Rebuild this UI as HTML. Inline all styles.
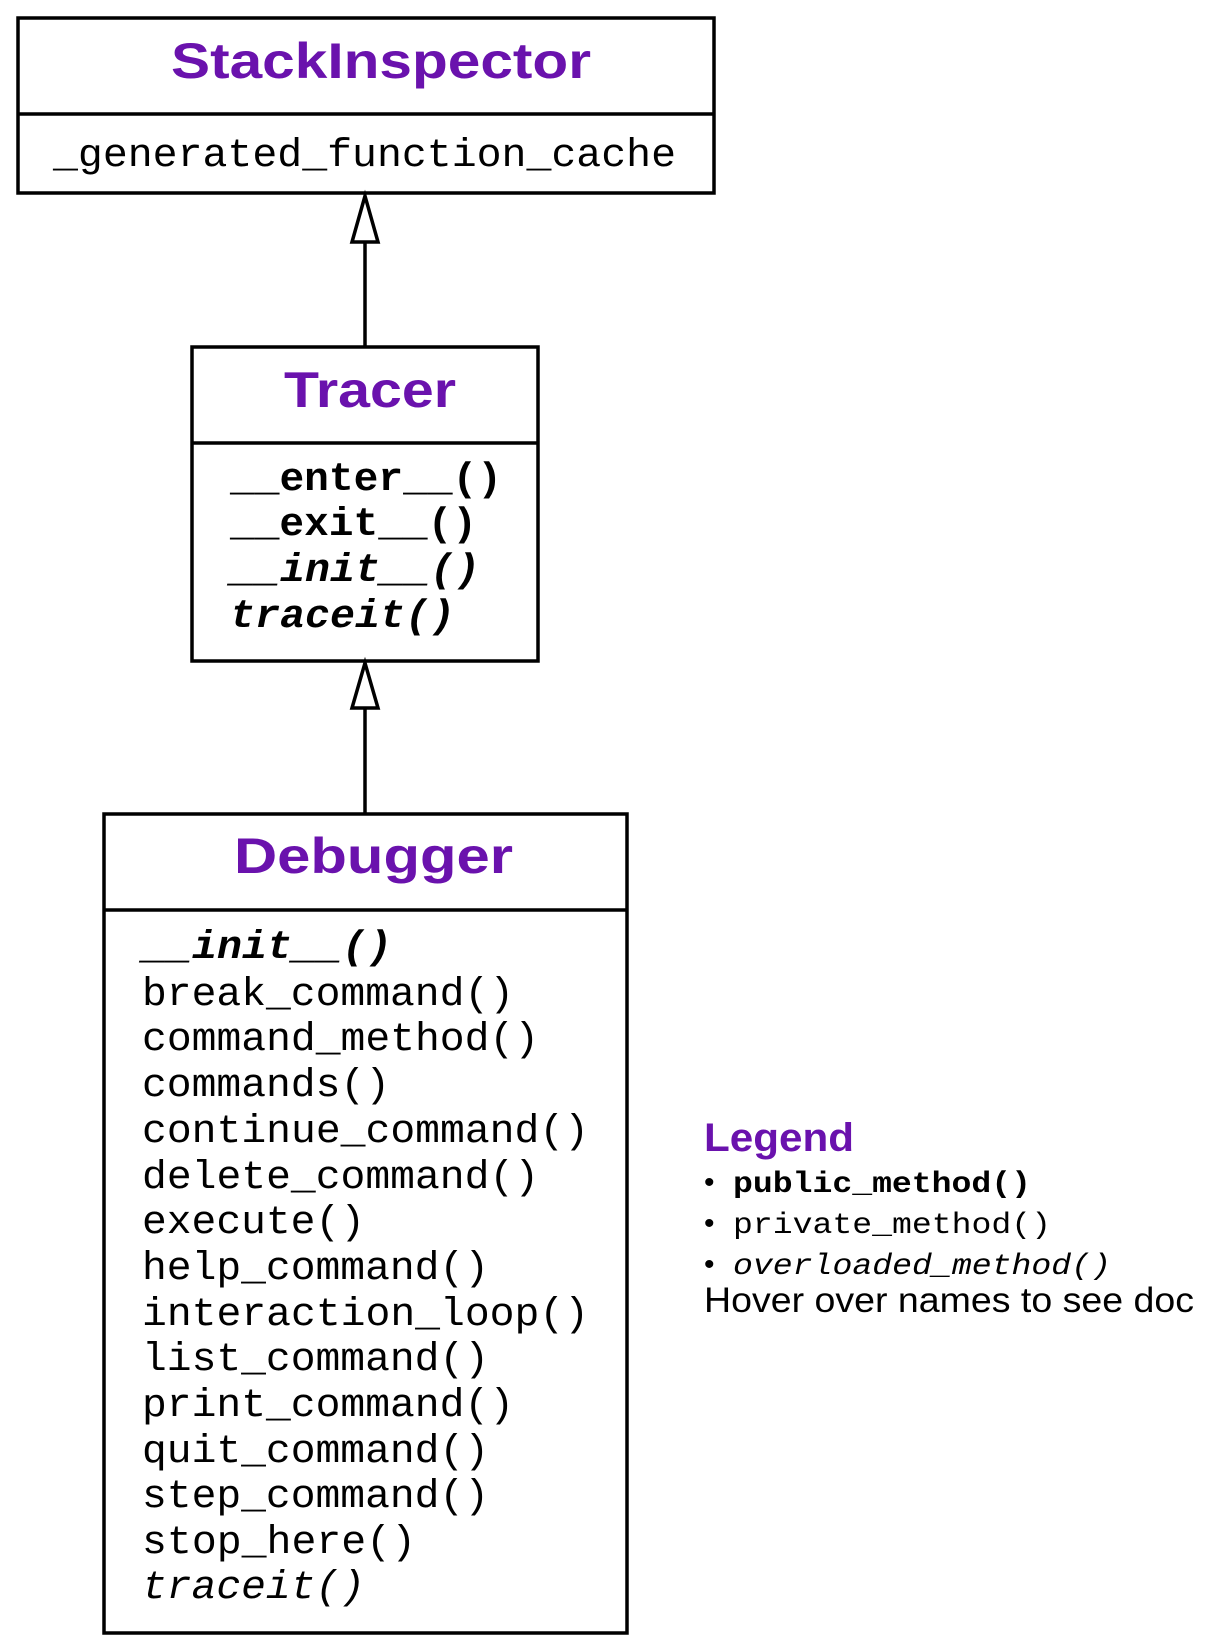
<!DOCTYPE html>
<html><head><meta charset="utf-8"><style>html,body{margin:0;padding:0;background:#fff}svg{display:block}</style></head>
<body>
<svg width="1221" height="1650" viewBox="0 0 1221 1650" xmlns="http://www.w3.org/2000/svg">
<g fill="none" stroke="#000" stroke-width="3.5">
<rect x="18" y="18" width="696" height="175"/>
<line x1="18" y1="114" x2="714" y2="114"/>
<rect x="192" y="347" width="346" height="314"/>
<line x1="192" y1="443" x2="538" y2="443"/>
<rect x="104" y="814" width="523" height="819"/>
<line x1="104" y1="910" x2="627" y2="910"/>
<line x1="365" y1="347" x2="365" y2="242"/>
<polygon points="365,196 352,242 378,242" fill="#fff"/>
<line x1="365" y1="814" x2="365" y2="708"/>
<polygon points="365,663 352,708 378,708" fill="#fff"/>
</g>
<g font-family="Liberation Sans, sans-serif" font-weight="bold" fill="#6a12ad">
<text x="171" y="78" font-size="50" textLength="420" lengthAdjust="spacingAndGlyphs">StackInspector</text>
<text x="284" y="407" font-size="50" textLength="172" lengthAdjust="spacingAndGlyphs">Tracer</text>
<text x="234" y="873" font-size="50" textLength="279" lengthAdjust="spacingAndGlyphs">Debugger</text>
<text x="704" y="1151" font-size="40" textLength="150" lengthAdjust="spacingAndGlyphs">Legend</text>
</g>
<g font-family="Liberation Mono, monospace" font-size="40" fill="#000">
<text x="53" y="166" textLength="623" lengthAdjust="spacingAndGlyphs">_generated_function_cache</text>
<g font-weight="bold">
<text x="230" y="490" textLength="272" lengthAdjust="spacingAndGlyphs">__enter__()</text>
<text x="230" y="535" textLength="247" lengthAdjust="spacingAndGlyphs">__exit__()</text>
<text x="230" y="581" font-style="italic" textLength="250" lengthAdjust="spacingAndGlyphs">__init__()</text>
<text x="230" y="627" font-style="italic" textLength="225" lengthAdjust="spacingAndGlyphs">traceit()</text>
<text x="142" y="958" font-style="italic" textLength="250" lengthAdjust="spacingAndGlyphs">__init__()</text>
</g>
<text x="142" y="1005" textLength="372" lengthAdjust="spacingAndGlyphs">break_command()</text>
<text x="142" y="1050" textLength="397" lengthAdjust="spacingAndGlyphs">command_method()</text>
<text x="142" y="1096" textLength="248" lengthAdjust="spacingAndGlyphs">commands()</text>
<text x="142" y="1142" textLength="447" lengthAdjust="spacingAndGlyphs">continue_command()</text>
<text x="142" y="1188" textLength="397" lengthAdjust="spacingAndGlyphs">delete_command()</text>
<text x="142" y="1233" textLength="223" lengthAdjust="spacingAndGlyphs">execute()</text>
<text x="142" y="1279" textLength="347" lengthAdjust="spacingAndGlyphs">help_command()</text>
<text x="142" y="1325" textLength="447" lengthAdjust="spacingAndGlyphs">interaction_loop()</text>
<text x="142" y="1370" textLength="347" lengthAdjust="spacingAndGlyphs">list_command()</text>
<text x="142" y="1416" textLength="372" lengthAdjust="spacingAndGlyphs">print_command()</text>
<text x="142" y="1462" textLength="347" lengthAdjust="spacingAndGlyphs">quit_command()</text>
<text x="142" y="1507" textLength="347" lengthAdjust="spacingAndGlyphs">step_command()</text>
<text x="142" y="1553" textLength="274" lengthAdjust="spacingAndGlyphs">stop_here()</text>
<text x="142" y="1598" font-style="italic" textLength="223" lengthAdjust="spacingAndGlyphs">traceit()</text>
</g>
<g font-size="30" fill="#000">
<text x="704" y="1192" font-family="Liberation Sans, sans-serif">•</text>
<text x="704" y="1233" font-family="Liberation Sans, sans-serif">•</text>
<text x="704" y="1274" font-family="Liberation Sans, sans-serif">•</text>
<text x="733" y="1192" font-family="Liberation Mono, monospace" font-weight="bold" textLength="298" lengthAdjust="spacingAndGlyphs">public_method()</text>
<text x="733" y="1233" font-family="Liberation Mono, monospace" textLength="318" lengthAdjust="spacingAndGlyphs">private_method()</text>
<text x="733" y="1274" font-family="Liberation Mono, monospace" font-style="italic" textLength="378" lengthAdjust="spacingAndGlyphs">overloaded_method()</text>
<text x="704" y="1312" font-family="Liberation Sans, sans-serif" font-size="35" textLength="490" lengthAdjust="spacingAndGlyphs">Hover over names to see doc</text>
</g>
</svg>
</body></html>
